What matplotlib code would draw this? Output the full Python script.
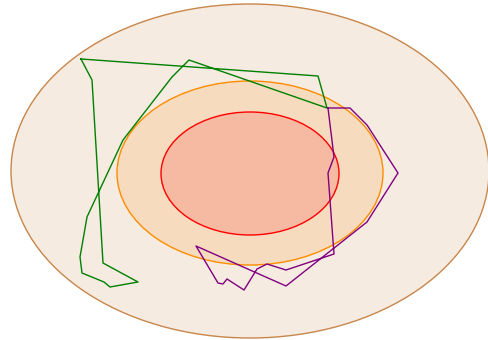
"""Nested ellipses with two outline polygons drawn over them."""
import matplotlib
matplotlib.use("Agg")
import matplotlib.pyplot as plt
from matplotlib.patches import Ellipse

# ellipses: center x, center y, width, height
ELL_CX = [250, 250, 250]
ELL_CY = [171, 173, 173.5]
ELL_W = [478, 266, 178]
ELL_H = [334, 184, 123]
ELL_EDGE = ["#c8864a", "#ff8c00", "#ff0000"]
ELL_FACE = ["#f5ebe0", "#f7dbbf", "#f6b9a1"]

# green outline
green_x = [81, 318, 327, 189, 172, 123, 87, 80, 82, 104, 110, 138, 103, 92, 81]
green_y = [59, 76, 108, 60, 77, 140, 217, 257, 273, 282, 287, 282, 263, 80, 59]

# purple outline
purple_x = [328, 350, 367, 398, 367, 286, 196, 218, 223, 227, 244, 257, 267, 286, 334, 328, 334, 328]
purple_y = [108, 108, 125, 173, 222, 286, 246, 283, 284, 279, 290, 269, 264, 270, 254, 173, 157, 108]


def main() -> None:
    fig = plt.figure(figsize=(4.89, 3.40), dpi=100)
    ax = fig.add_axes([0, 0, 1, 1])
    for cx, cy, w, h, ec, fc in zip(ELL_CX, ELL_CY, ELL_W, ELL_H, ELL_EDGE, ELL_FACE):
        ax.add_patch(Ellipse((cx, cy), w, h, facecolor=fc, edgecolor=ec, lw=1.0))
    ax.plot(green_x, green_y, color="green", lw=1.0)
    ax.plot(purple_x, purple_y, color="purple", lw=1.0)
    ax.set_xlim(0, 489)
    ax.set_ylim(340, 0)
    ax.axis("off")
    fig.savefig("out.png", dpi=100)
    plt.close(fig)


if __name__ == "__main__":
    main()
